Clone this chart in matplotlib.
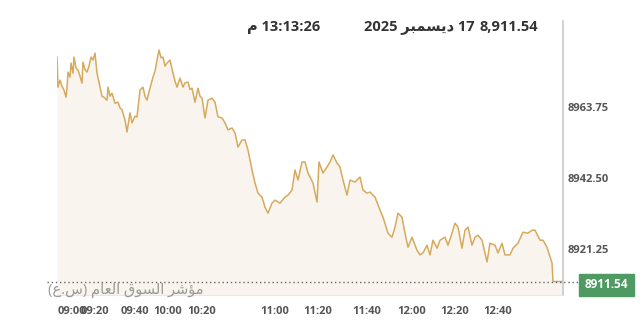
import re
import matplotlib
matplotlib.use("Agg")
import matplotlib.pyplot as plt
from matplotlib.patches import Rectangle

# intraday index levels (x = trade position along the session, y = index level)
pos = [0, 1, 3, 5, 7, 9, 10, 11, 13, 14,
       16, 17, 19, 21, 23, 25, 26, 28, 30, 32,
       34, 36, 38, 40, 43, 45, 47, 50, 51, 53,
       55, 58, 61, 63, 65, 68, 70, 73, 75, 78,
       80, 83, 86, 88, 90, 93, 96, 98, 100, 102,
       104, 106, 108, 110, 113, 116, 118, 120, 123, 126,
       128, 131, 133, 135, 138, 141, 143, 145, 148, 151,
       155, 158, 161, 165, 168, 171, 175, 178, 181, 185,
       188, 191, 195, 198, 201, 205, 208, 211, 215, 218,
       223, 228, 231, 235, 238, 241, 245, 248, 251, 256,
       260, 262, 266, 270, 273, 276, 280, 283, 286, 290,
       293, 298, 303, 306, 310, 313, 318, 323, 326, 331,
       335, 338, 341, 345, 348, 351, 355, 360, 363, 366,
       370, 373, 376, 380, 383, 388, 391, 395, 398, 401,
       405, 408, 411, 415, 418, 421, 425, 430, 433, 438,
       441, 445, 448, 453, 456, 461, 466, 471, 475, 478,
       483, 486, 490, 493, 495, 496, 506]
level = [8978.7, 8969.7, 8971.8, 8970.0, 8968.8, 8966.7, 8969.4, 8974.2, 8972.7, 8976.9,
         8973.9, 8978.7, 8975.5, 8974.8, 8973.0, 8970.9, 8977.2, 8975.0, 8974.2, 8976.0,
         8978.7, 8977.8, 8979.9, 8973.9, 8969.7, 8967.0, 8966.7, 8965.8, 8969.7, 8967.0,
         8967.9, 8964.9, 8965.2, 8963.5, 8962.9, 8959.9, 8956.3, 8962.0, 8959.0, 8961.0,
         8960.8, 8968.8, 8969.7, 8967.0, 8965.8, 8969.4, 8972.7, 8974.5, 8977.8, 8980.8,
         8978.5, 8978.7, 8976.0, 8976.9, 8977.8, 8973.9, 8971.5, 8969.7, 8972.4, 8969.7,
         8971.0, 8971.2, 8969.0, 8969.4, 8965.2, 8969.4, 8967.0, 8966.4, 8960.5, 8965.8,
         8966.4, 8965.2, 8960.8, 8960.5, 8959.0, 8956.9, 8957.5, 8956.0, 8951.8, 8953.9,
         8953.9, 8950.9, 8944.9, 8941.0, 8938.0, 8936.8, 8933.8, 8932.0, 8935.0, 8935.9,
         8935.0, 8936.8, 8937.4, 8938.9, 8944.9, 8941.9, 8947.3, 8947.3, 8944.0, 8941.0,
         8935.3, 8947.3, 8944.0, 8945.8, 8947.3, 8949.4, 8947.0, 8945.8, 8941.9, 8937.4,
         8941.9, 8941.3, 8942.8, 8938.9, 8938.0, 8938.3, 8936.8, 8932.9, 8930.8, 8926.0,
         8924.8, 8927.8, 8932.0, 8930.8, 8926.0, 8921.8, 8924.8, 8920.9, 8919.5, 8920.1,
         8922.4, 8919.5, 8923.9, 8921.5, 8923.9, 8924.8, 8922.4, 8926.0, 8929.0, 8927.8,
         8921.5, 8926.9, 8927.8, 8922.4, 8924.8, 8925.4, 8923.9, 8917.4, 8923.0, 8922.4,
         8920.1, 8923.0, 8919.5, 8919.5, 8921.5, 8923.0, 8926.3, 8926.0, 8926.9, 8926.9,
         8923.9, 8923.9, 8921.8, 8918.9, 8917.1, 8911.54, 8911.54]

last_value = 8911.54
y_ticks = [8921.25, 8942.50, 8963.75]
x_tick_pos = [15, 38, 78, 111, 145, 218, 261, 310, 355, 398, 441]
x_tick_labels = ["09:00", "09:20", "09:40", "10:00", "10:20", "11:00",
                 "11:20", "11:40", "12:00", "12:20", "12:40"]

header_value = "8,911.54"
header_date = "17 ديسمبر 2025"
header_time = "13:13:26 م"
index_name = "مؤشر السوق العام (س.ع)"

# minimal arabic shaping (no bidi engine available in matplotlib)
FORMS = {
    "ا": (0xFE8D, 0xFE8E, None, None), "ل": (0xFEDD, 0xFEDE, 0xFEDF, 0xFEE0),
    "س": (0xFEB1, 0xFEB2, 0xFEB3, 0xFEB4), "و": (0xFEED, 0xFEEE, None, None),
    "ق": (0xFED5, 0xFED6, 0xFED7, 0xFED8), "ع": (0xFEC9, 0xFECA, 0xFECB, 0xFECC),
    "م": (0xFEE1, 0xFEE2, 0xFEE3, 0xFEE4), "ؤ": (0xFE85, 0xFE86, None, None),
    "ش": (0xFEB5, 0xFEB6, 0xFEB7, 0xFEB8), "ر": (0xFEAD, 0xFEAE, None, None),
    "د": (0xFEA9, 0xFEAA, None, None), "ي": (0xFEF1, 0xFEF2, 0xFEF3, 0xFEF4),
    "ب": (0xFE8F, 0xFE90, 0xFE91, 0xFE92),
}


def shape(s):
    out = []
    for i, ch in enumerate(s):
        if ch not in FORMS:
            out.append(ch)
            continue
        prev = s[i - 1] if i > 0 else ""
        nxt = s[i + 1] if i + 1 < len(s) else ""
        join_prev = prev in FORMS and FORMS[prev][2] is not None
        join_next = nxt in FORMS and FORMS[ch][2] is not None
        iso, fin, ini, med = FORMS[ch]
        if join_prev and join_next:
            code = med
        elif join_prev:
            code = fin
        elif join_next:
            code = ini
        else:
            code = iso
        out.append(chr(code))
    return "".join(out)


def ar(s):
    s = shape(s)
    parts = re.split(r"(\d[\d,.:]*\d|\d)", s)
    mirror = str.maketrans("()", ")(")
    res = []
    for p in reversed(parts):
        if p and p[0].isdigit():
            res.append(p)
        else:
            res.append(p[::-1].translate(mirror))
    return "".join(res)


fonts = ["Open Sans", "DejaVu Sans"]
line_col = "#d5aa5c"
fill_col = "#faf4ee"
text_col = "#555555"

fig = plt.figure(figsize=(6.4, 3.29), dpi=100)
ax = fig.add_axes([57 / 640, 34 / 329, 506 / 640, 274 / 329])

y_bottom = 8907.5
ax.fill_between(pos, level, y_bottom, color=fill_col, lw=0)
ax.plot(pos, level, color=line_col, lw=1.1)
ax.set_xlim(0, 506)
ax.set_ylim(y_bottom, 8989.5)

for s in ["top", "left"]:
    ax.spines[s].set_visible(False)
ax.spines["right"].set_color("#c9c9c9")
ax.spines["right"].set_linewidth(1.2)
ax.spines["bottom"].set_color("#ebe6e1")

ax.yaxis.tick_right()
ax.set_yticks(y_ticks)
ax.set_yticklabels(["%.2f" % v for v in y_ticks])
ax.set_xticks(x_tick_pos)
ax.set_xticklabels(x_tick_labels)
ax.tick_params(axis="y", length=0, pad=3, labelsize=8, labelcolor=text_col)
ax.tick_params(axis="x", length=0, pad=8, labelsize=8, labelcolor=text_col)
for lab in ax.get_xticklabels() + ax.get_yticklabels():
    lab.set_fontweight("bold")
    lab.set_family(fonts)

# last value marker line + badge
ax.axhline(last_value, xmin=-0.02, xmax=1.032, color="#666666", lw=1,
           ls=(0, (1, 2)), clip_on=False)
fig.patches.append(Rectangle((579 / 640, 1 - 296 / 329), 55 / 640, 22 / 329,
                             transform=fig.transFigure, color="#4f9a62"))
fig.text(606.5 / 640, 1 - 285 / 329, "%.2f" % last_value, color="white",
         fontsize=8.5, fontweight="bold", ha="center", va="center", family=fonts)

fig.text(48 / 640, 1 - 290 / 329, ar(index_name), color="#9a9a9a", fontsize=10.5,
         ha="left", va="center", family=fonts)

hy = 1 - 27 / 329
fig.text(538 / 640, hy, header_value, fontsize=10.5, fontweight="bold",
         color="#333333", ha="right", va="center", family=fonts)
fig.text(475 / 640, hy, ar(header_date), fontsize=10.5, fontweight="bold",
         color="#333333", ha="right", va="center", family=fonts)
fig.text(320 / 640, hy, ar(header_time), fontsize=10.5, fontweight="bold",
         color="#333333", ha="right", va="center", family=fonts)

fig.savefig("out.png", dpi=100, facecolor="white")
